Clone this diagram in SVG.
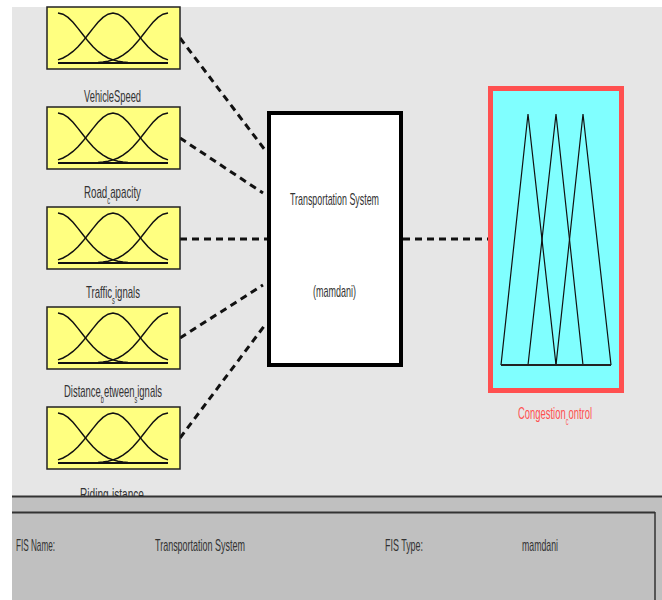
<svg xmlns="http://www.w3.org/2000/svg" xmlns:xlink="http://www.w3.org/1999/xlink" width="662" height="600" viewBox="0 0 662 600">
<style>
.lbl{font-family:"Liberation Sans",Arial,sans-serif;font-size:17px;fill:#333;}
.sub{font-size:10px;}
.conn{stroke:#111;stroke-width:3;stroke-dasharray:7 5;fill:none;}
.mfbox{fill:#ffff80;stroke:#222;stroke-width:1.5;}
.curve{fill:none;stroke:#111;stroke-width:1.5;}
</style>
<defs>
<g id="mf">
<rect class="mfbox" x="0" y="0" width="133" height="62"/>
<polyline class="curve" points="11,52.9 16,50.95 21,48.2 26,44.45 31,39.75 36,34.1 41,27.8 46,21.35 51,15.3 56,10.4 61,7.15 66,6 71,7.15 76,10.4 81,15.3 86,21.35 91,27.8 96,34.1 101,39.75 106,44.45 111,48.2 116,50.95 121,52.9"/>
<polyline class="curve" points="11,6 16,7.15 21,10.4 26,15.3 31,21.35 36,27.8 41,34.1 46,39.75 51,44.45 56,48.2 61,50.95 66,52.9 71,54.15 76,54.96 81,55.44 91,55.86 101,56 121,56"/>
<polyline class="curve" points="121,6 116,7.15 111,10.4 106,15.3 101,21.35 96,27.8 91,34.1 86,39.75 81,44.45 76,48.2 71,50.95 66,52.9 61,54.15 56,54.96 51,55.44 41,55.86 31,56 11,56"/>
<line x1="11" y1="56" x2="121" y2="56" stroke="#111" stroke-width="2.2"/>
</g>
</defs>
<rect x="0" y="0" width="662" height="600" fill="#ffffff"/>
<rect x="12" y="7" width="650" height="490" fill="#e6e6e6"/>

<g id="connectors">
<line class="conn" x1="180" y1="38" x2="265" y2="150"/>
<line class="conn" x1="180" y1="138" x2="263" y2="193"/>
<line class="conn" x1="180" y1="239" x2="267" y2="239"/>
<line class="conn" x1="180" y1="338" x2="263" y2="285"/>
<line class="conn" x1="180" y1="438" x2="265" y2="325"/>
<line class="conn" x1="403" y1="239" x2="488" y2="239"/>
</g>

<g id="in1">
<use xlink:href="#mf" x="47" y="7"/>
<text class="lbl" x="84" y="102" textLength="57" lengthAdjust="spacingAndGlyphs">VehicleSpeed</text>
</g>
<g id="in2">
<use xlink:href="#mf" x="47" y="107"/>
<text class="lbl" x="84" y="198" textLength="57" lengthAdjust="spacingAndGlyphs">Road<tspan class="sub" dy="6">c</tspan><tspan dy="-6">apacity</tspan></text>
</g>
<g id="in3">
<use xlink:href="#mf" x="47" y="207"/>
<text class="lbl" x="86" y="298" textLength="54" lengthAdjust="spacingAndGlyphs">Traffic<tspan class="sub" dy="6">s</tspan><tspan dy="-6">ignals</tspan></text>
</g>
<g id="in4">
<use xlink:href="#mf" x="47" y="307"/>
<text class="lbl" x="64" y="397" textLength="98" lengthAdjust="spacingAndGlyphs">Distance<tspan class="sub" dy="6">b</tspan><tspan dy="-6">etween</tspan><tspan class="sub" dy="6">s</tspan><tspan dy="-6">ignals</tspan></text>
</g>
<g id="in5">
<use xlink:href="#mf" x="47" y="407"/>
<text class="lbl" x="80" y="500" textLength="64" lengthAdjust="spacingAndGlyphs">Riding<tspan class="sub" dy="6">d</tspan><tspan dy="-6">istance</tspan></text>
</g>

<g id="system">
<rect x="269" y="113" width="132" height="252" fill="#ffffff" stroke="#000" stroke-width="4"/>
<text class="lbl" x="290" y="205" textLength="89" lengthAdjust="spacingAndGlyphs">Transportation System</text>
<text class="lbl" x="313" y="297" textLength="43" lengthAdjust="spacingAndGlyphs">(mamdani)</text>
</g>

<g id="out1">
<rect x="490.5" y="88.5" width="131" height="302" fill="#80ffff" stroke="#ff5050" stroke-width="5"/>
<polyline fill="none" stroke="#111" stroke-width="1.2" points="501,365 528,114 556,365"/>
<polyline fill="none" stroke="#111" stroke-width="1.2" points="528,365 556,114 583,365"/>
<polyline fill="none" stroke="#111" stroke-width="1.2" points="556,365 583,114 611,365"/>
<line x1="501" y1="365" x2="611" y2="365" stroke="#222" stroke-width="2.2"/>
<text class="lbl" x="518" y="419" textLength="74" lengthAdjust="spacingAndGlyphs" style="fill:#ff5050">Congestion<tspan class="sub" dy="6">c</tspan><tspan dy="-6">ontrol</tspan></text>
</g>

<g id="panel">
<rect x="12" y="496" width="650" height="104" fill="#c0c0c0"/>
<line x1="12" y1="496.5" x2="662" y2="496.5" stroke="#333" stroke-width="2"/>
<line x1="12" y1="512.5" x2="655" y2="512.5" stroke="#333" stroke-width="2"/>
<line x1="655" y1="512" x2="655" y2="600" stroke="#333" stroke-width="1.5"/>
<text class="lbl" x="16" y="551" textLength="39" lengthAdjust="spacingAndGlyphs">FIS Name:</text>
<text class="lbl" x="155" y="551" textLength="90" lengthAdjust="spacingAndGlyphs">Transportation System</text>
<text class="lbl" x="385" y="551" textLength="38" lengthAdjust="spacingAndGlyphs">FIS Type:</text>
<text class="lbl" x="522" y="551" textLength="36" lengthAdjust="spacingAndGlyphs">mamdani</text>
</g>
</svg>
